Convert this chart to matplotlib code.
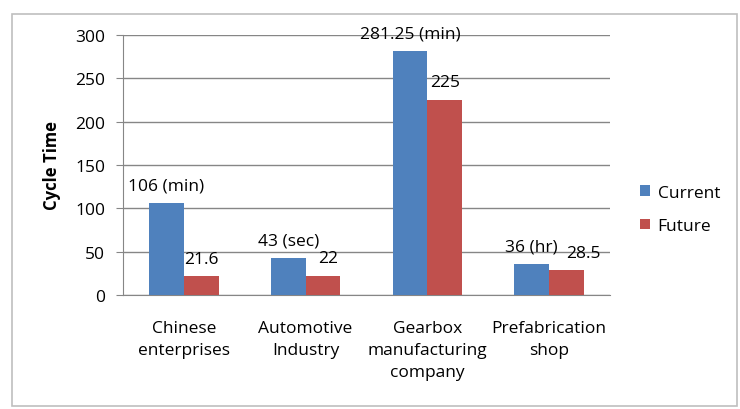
import numpy as np
import matplotlib
matplotlib.use('Agg')
import matplotlib.pyplot as plt
import matplotlib.patches as patches

plt.rcParams['font.family'] = ['Open Sans', 'DejaVu Sans']

categories = ['Chinese\nenterprises', 'Automotive\nIndustry', 'Gearbox\nmanufacturing\ncompany', 'Prefabrication\nshop']
current = [106, 43, 281.25, 36]
future = [21.6, 22, 225, 28.5]
current_labels = ['106 (min)', '43 (sec)', '281.25 (min)', '36 (hr)']
future_labels = ['21.6', '22', '225', '28.5']

ColorCur = '#4F81BD'
ColorFut = '#C0504D'
ColorGrid = '#868686'
fs = 12.5

fig = plt.figure(figsize=(7.4, 4.1), dpi=100)
ax = fig.add_axes([123/740, 1 - 296/410, (610 - 123)/740, (296 - 36)/410])

# outer chart border
fig.patches.append(patches.Rectangle((12/740, 3/410), 725/740, 392/410,
                                     transform=fig.transFigure, fill=False,
                                     edgecolor='#BFBFBF', linewidth=1.2))

x = np.arange(len(categories))
w = 1/3.5
b1 = ax.bar(x - w/2, current, w, color=ColorCur, label='Current', zorder=3)
b2 = ax.bar(x + w/2, future, w, color=ColorFut, label='Future', zorder=3)

# small sideways nudges like the excel labels (points)
fut_dx = [0, 4, 0, 12]

for rect, lab in zip(b1, current_labels):
    ax.annotate(lab, (rect.get_x() + rect.get_width()/2, rect.get_height()),
                xytext=(0, 7), textcoords='offset points', ha='center', va='bottom',
                fontsize=fs, annotation_clip=False)
for rect, lab, dx in zip(b2, future_labels, fut_dx):
    ax.annotate(lab, (rect.get_x() + rect.get_width()/2, rect.get_height()),
                xytext=(dx, 7), textcoords='offset points', ha='center', va='bottom',
                fontsize=fs, annotation_clip=False)

ax.set_xlim(-0.5, 3.5)
ax.set_ylim(0, 300)
ax.set_yticks(range(0, 301, 50))
ax.yaxis.grid(True, color=ColorGrid, linewidth=1, zorder=0)
ax.set_axisbelow(True)
for s in ['top', 'right']:
    ax.spines[s].set_visible(False)
ax.spines['left'].set_color(ColorGrid)
ax.spines['bottom'].set_color(ColorGrid)
ax.tick_params(axis='y', length=5, color=ColorGrid, labelsize=fs, pad=8)
ax.tick_params(axis='x', length=0, labelsize=fs, pad=18)
ax.set_xticks(x)
ax.set_xticklabels(categories, linespacing=1.5)
ax.set_ylabel('Cycle Time', fontsize=12, fontweight='bold', labelpad=10)

ax.legend(loc='center left', bbox_to_anchor=(1.03, 0.33), frameon=False,
          fontsize=fs, handlelength=0.55, handleheight=0.55, handletextpad=0.45,
          labelspacing=1.0)

fig.savefig('out.png', dpi=100)
